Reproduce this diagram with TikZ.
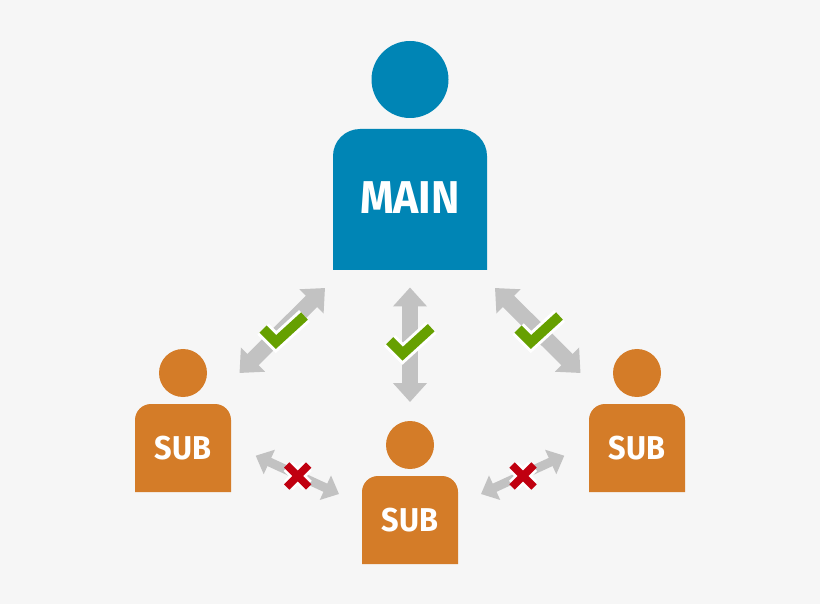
\documentclass[tikz,border=0pt]{standalone}
\usepackage{fontspec}
\setmainfont{Fira Sans}[FakeStretch=0.93]
\usetikzlibrary{arrows.meta}
\definecolor{pagegrey}{HTML}{F6F6F6}
\definecolor{mainblue}{HTML}{0085B5}
\definecolor{suborange}{HTML}{D47C28}
\definecolor{arrowgrey}{HTML}{C2C2C2}
\definecolor{okgreen}{HTML}{66A000}
\definecolor{nored}{HTML}{C00010}
\tikzset{
	bigarrow/.style={draw=arrowgrey, line width=16pt, {Triangle[length=19pt,width=33pt]}-{Triangle[length=19pt,width=33pt]}},
	smallarrow/.style={draw=arrowgrey, line width=9pt, {Triangle[length=15pt,width=26pt]}-{Triangle[length=15pt,width=26pt]}},
	persontext/.style={text=white, inner sep=0pt, anchor=center},
}
\begin{document}
\begin{tikzpicture}[x=1pt, y=-1pt]
	%background
	\fill[pagegrey] (0,0) rectangle (820,604);
	\useasboundingbox (0,0) rectangle (820,604);

	%main person
	\fill[mainblue] (410,79.5) circle (38.5);
	\fill[mainblue] (333,270) {[rounded corners=27pt] -- (333,129) -- (487,129)} -- (487,270) -- cycle;
	\node[persontext, font=\bfseries\fontsize{46}{46}\selectfont] (main) at (410,198) {MAIN};

	%sub persons
	\foreach \name/\px/\py in {subleft/183/373, submid/410/445, subright/637/373} {
		\begin{scope}[shift={(\px,\py)}]
			\fill[suborange] (0,0) circle (24);
			\fill[suborange] (-48,119) {[rounded corners=16pt] -- (-48,31) -- (48,31)} -- (48,119) -- cycle;
			\node[persontext, font=\bfseries\fontsize{33}{33}\selectfont] (\name) at (0,75) {SUB};
		\end{scope}
	}

	%arrow ends
	\coordinate (la) at (325,288);
	\coordinate (lb) at (239.5,373);
	\coordinate (ma) at (410,287.5);
	\coordinate (mb) at (410,402);
	\coordinate (ra) at (495,288);
	\coordinate (rb) at (580.5,373);
	\coordinate (xa) at (255.7,455.7);
	\coordinate (xb) at (339,494);
	\coordinate (ya) at (564.3,455.7);
	\coordinate (yb) at (481,494);

	%arrows
	\draw[bigarrow] (la) -- (lb);
	\draw[bigarrow] (ma) -- (mb);
	\draw[bigarrow] (ra) -- (rb);
	\draw[smallarrow] (xa) -- (xb);
	\draw[smallarrow] (ya) -- (yb);

	%ticks, shift is the corner of the tick
	\foreach \px/\py in {276/342, 402.7/353.7, 531/342} {
		\begin{scope}[shift={(\px,\py)}]
			\draw[white, line width=16pt, line cap=square] (-13,-13) -- (0,0) -- (28.5,-26);
			\draw[okgreen, line width=10pt, line cap=square] (-13,-13) -- (0,0) -- (28.5,-26);
		\end{scope}
	}

	%crosses
	\foreach \px/\py in {297.7/476, 523/476} {
		\begin{scope}[shift={(\px,\py)}]
			\draw[white, line width=13pt, line cap=square] (-9.5,-9.5) -- (9.5,9.5) (-9.5,9.5) -- (9.5,-9.5);
			\draw[nored, line width=7.5pt] (-11,-11) -- (11,11) (-11,11) -- (11,-11);
		\end{scope}
	}
\end{tikzpicture}
\end{document}
